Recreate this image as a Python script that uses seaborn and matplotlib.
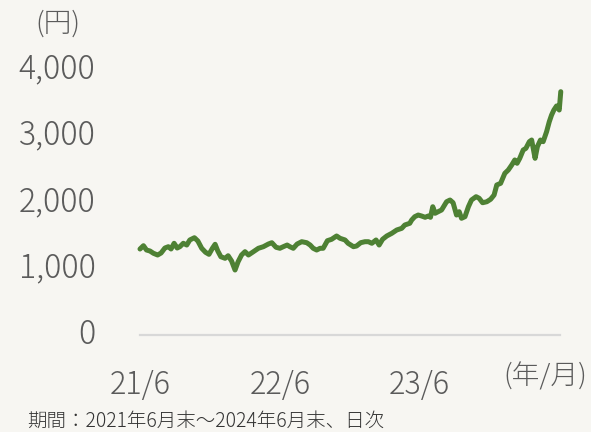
import pandas as pd
import matplotlib.pyplot as plt
import matplotlib.transforms as mtransforms
import seaborn as sns

# Values (days after 2021-06-30, price in yen)
days = [0, 9, 17, 26, 35, 46, 55, 65, 74, 81, 89, 97, 104, 113, 122, 130, 142, 151,
        161, 171, 180, 189, 196, 203, 211, 222, 230, 239, 248, 256, 265, 274, 283,
        296, 309, 322, 335, 344, 355, 365, 374, 384, 391, 400, 410, 422, 435, 444,
        452, 461, 470, 478, 489, 500, 513, 522, 535, 543, 557, 565, 576, 587, 596,
        605, 616, 624, 633, 644, 657, 670, 683, 691, 704, 709, 717, 726, 735, 744,
        752, 758, 764, 770, 778, 787, 800, 809, 817, 826, 833, 839, 848, 857, 865,
        877, 885, 894, 905, 915, 924, 931, 941, 952, 961, 970, 978, 984, 991, 1000,
        1007, 1016, 1022, 1031, 1037, 1045, 1052, 1061, 1068, 1074, 1080, 1087,
        1094, 1098]
price = [1278, 1328, 1263, 1248, 1214, 1188, 1218, 1293, 1313, 1278, 1364, 1293,
         1313, 1364, 1338, 1414, 1448, 1398, 1289, 1229, 1198, 1289, 1349, 1248,
         1162, 1138, 1177, 1098, 962, 1087, 1188, 1238, 1188, 1238, 1289, 1313,
         1353, 1373, 1304, 1289, 1313, 1338, 1313, 1289, 1353, 1388, 1373, 1338,
         1289, 1263, 1289, 1289, 1403, 1424, 1474, 1439, 1414, 1364, 1313, 1323,
         1373, 1388, 1388, 1364, 1414, 1338, 1424, 1474, 1514, 1564, 1589, 1639,
         1665, 1714, 1764, 1789, 1774, 1755, 1774, 1755, 1914, 1815, 1839, 1865,
         1989, 2015, 1974, 1789, 1839, 1740, 1764, 1914, 2015, 2065, 2041, 1974,
         1989, 2026, 2090, 2241, 2266, 2416, 2466, 2541, 2617, 2567, 2642, 2767,
         2792, 2892, 2917, 2642, 2817, 2917, 2892, 3042, 3192, 3293, 3368, 3429,
         3368, 3644]

start = pd.Timestamp('2021-06-30')
end = pd.Timestamp('2024-06-30')
tick_dates = ['2021-06-30', '2022-06-30', '2023-06-30']
tick_labels = ['21/6', '22/6', '23/6']
y_ticks = [0, 1000, 2000, 3000, 4000]

df = pd.DataFrame({'date': start + pd.to_timedelta(days, unit='D'), 'price': price})

sns.set_style('white')
plt.rcParams['font.family'] = ['Noto Sans CJK JP', 'DejaVu Sans']
plt.rcParams['font.weight'] = 'light'

bg = '#f7f6f2'
grey = '#5b5b5b'

fig = plt.figure(figsize=(5.91, 4.32), dpi=100, facecolor=bg)
ax = fig.add_axes([140 / 591, 98 / 432, 420 / 591, 266 / 432])
ax.set_facecolor(bg)

sns.lineplot(data=df, x='date', y='price', ax=ax, color='#4e8134', linewidth=3.6,
             clip_on=False)

ax.set_xlim(start, end)
ax.set_ylim(0, 4000)
ax.set_xticks(pd.to_datetime(tick_dates))
ax.set_xticklabels(tick_labels)
ax.set_yticks(y_ticks)
ax.set_yticklabels([f'{v:,}' for v in y_ticks])
ax.set_xlabel('')
ax.set_ylabel('')

for s in ['top', 'right', 'left']:
    ax.spines[s].set_visible(False)
ax.spines['bottom'].set_color('#d8d8d8')
ax.spines['bottom'].set_linewidth(1.6)
ax.spines['bottom'].set_position(('outward', 1))

ax.tick_params(axis='x', direction='in', length=8, width=1.3, color='#d8d8d8',
               labelsize=22, labelcolor=grey, pad=24)
ax.tick_params(axis='y', length=0, labelsize=23, labelcolor=grey, pad=32)

# nudge y labels up a little
shift = mtransforms.ScaledTranslation(0, 0.03, fig.dpi_scale_trans)
for lab in ax.get_yticklabels():
    lab.set_transform(lab.get_transform() + shift)

fig.text(58 / 591, 1 - 24 / 432, '(円)', fontsize=20, color=grey, ha='center', va='center')
fig.text(545 / 591, 1 - 376 / 432, '(年/月)', fontsize=20, color=grey, ha='center', va='center')
fig.text(27 / 591, 1 - 421 / 432, '期間：2021年6月末～2024年6月末、日次', fontsize=14,
         color='#333333', ha='left', va='center')

fig.savefig('out.png', dpi=100, facecolor=bg)
